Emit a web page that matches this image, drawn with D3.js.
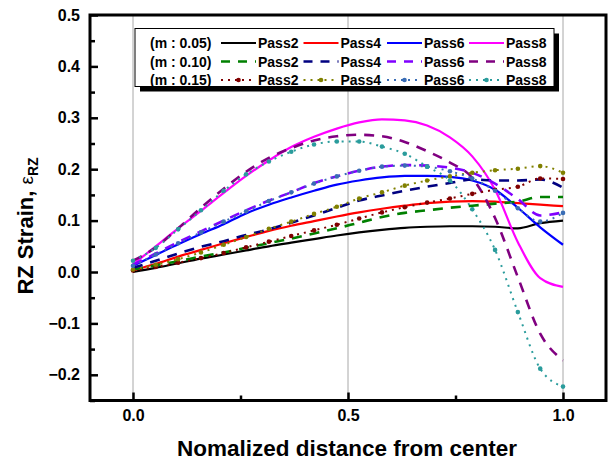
<!DOCTYPE html>
<html>
<head>
  <meta charset="utf-8">
  <style>
    body { margin: 0; background: #fff; }
    svg { display: block; font-family: "Liberation Sans", Arial, sans-serif; font-weight: bold; }
  </style>
</head>
<body>
  <div id="chart"></div>
  <script src="https://d3js.org/d3.v7.min.js"></script>
  <script>
    // normalized radial positions of the nodes
    var xPos = [0, 0.053, 0.105, 0.158, 0.211, 0.263, 0.316, 0.368, 0.421, 0.474,
                0.526, 0.579, 0.632, 0.684, 0.737, 0.789, 0.842, 0.895, 0.947, 1.0];

    var frictions = ["(m : 0.05)", "(m : 0.10)", "(m : 0.15)"];
    var passes = ["Pass2", "Pass4", "Pass6", "Pass8"];

    // m = 0.05
    var m05_pass2 = [0.0, 0.008, 0.017, 0.026, 0.034, 0.042, 0.05, 0.057, 0.064, 0.071,
                     0.077, 0.082, 0.086, 0.088, 0.089, 0.089, 0.088, 0.085, 0.095, 0.1];
    var m05_pass4 = [0.003, 0.016, 0.03, 0.043, 0.056, 0.068, 0.08, 0.09, 0.099, 0.108,
                     0.116, 0.123, 0.129, 0.134, 0.137, 0.138, 0.137, 0.134, 0.131, 0.128];
    var m05_pass6 = [0.012, 0.033, 0.054, 0.074, 0.093, 0.114, 0.131, 0.145, 0.158, 0.17,
                     0.178, 0.184, 0.187, 0.187, 0.185, 0.178, 0.16, 0.125, 0.087, 0.053];
    var m05_pass8 = [0.015, 0.05, 0.085, 0.119, 0.154, 0.187, 0.217, 0.243, 0.263, 0.279,
                     0.291, 0.297, 0.295, 0.285, 0.262, 0.225, 0.16, 0.058, -0.012, -0.029];
    // m = 0.10
    var m10_pass2 = [0.005, 0.013, 0.021, 0.03, 0.038, 0.047, 0.056, 0.065, 0.075, 0.085,
                     0.096, 0.107, 0.115, 0.12, 0.125, 0.129, 0.133, 0.137, 0.146, 0.146];
    var m10_pass4 = [0.008, 0.022, 0.036, 0.049, 0.06, 0.072, 0.083, 0.096, 0.11, 0.125,
                     0.139, 0.149, 0.158, 0.166, 0.173, 0.18, 0.178, 0.178, 0.18, 0.164];
    var m10_pass6 = [0.014, 0.036, 0.058, 0.079, 0.1, 0.12, 0.139, 0.155, 0.173, 0.186,
                     0.197, 0.205, 0.208, 0.207, 0.203, 0.193, 0.172, 0.142, 0.11, 0.116];
    var m10_pass8 = [0.022, 0.048, 0.085, 0.125, 0.162, 0.195, 0.222, 0.241, 0.256, 0.264,
                     0.267, 0.264, 0.253, 0.235, 0.213, 0.183, 0.105, -0.01, -0.12, -0.172];
    // m = 0.15
    var m15_pass2 = [0.003, 0.01, 0.018, 0.027, 0.037, 0.048, 0.059, 0.07, 0.081, 0.092,
                     0.104, 0.116, 0.126, 0.135, 0.143, 0.152, 0.16, 0.166, 0.182, 0.181];
    var m15_pass4 = [0.005, 0.014, 0.025, 0.038, 0.053, 0.068, 0.084, 0.098, 0.113, 0.127,
                     0.143, 0.155, 0.168, 0.178, 0.186, 0.193, 0.198, 0.201, 0.206, 0.193];
    var m15_pass6 = [0.012, 0.034, 0.056, 0.077, 0.098, 0.118, 0.138, 0.155, 0.172, 0.186,
                     0.197, 0.205, 0.207, 0.205, 0.196, 0.182, 0.158, 0.124, 0.098, 0.115];
    var m15_pass8 = [0.022, 0.047, 0.083, 0.12, 0.158, 0.19, 0.215, 0.234, 0.248, 0.254,
                     0.254, 0.244, 0.23, 0.205, 0.178, 0.122, 0.043, -0.078, -0.188, -0.223];

    var xTicks = [0.0, 0.5, 1.0];
    var xMinor = [0.25, 0.75];
    var yTicks = [-0.2, -0.1, 0.0, 0.1, 0.2, 0.3, 0.4, 0.5];
    var yMinor = [-0.25, -0.15, -0.05, 0.05, 0.15, 0.25, 0.35, 0.45];

    var colors = [
      ["#000000", "#ff0000", "#0000ff", "#ff00ff"],
      ["#008000", "#000080", "#8000ff", "#800080"],
      ["#800000", "#808000", "#3a6db5", "#2a9c9c"]
    ];
    var dashes = [null, "10,8", "2,5"];
    var widths = [2.2, 2.6, 2];

    var seriesValues = [
      [m05_pass2, m05_pass4, m05_pass6, m05_pass8],
      [m10_pass2, m10_pass4, m10_pass6, m10_pass8],
      [m15_pass2, m15_pass4, m15_pass6, m15_pass8]
    ];

    var W = 610, H = 463;
    var svg = d3.select("#chart").append("svg")
        .attr("width", W)
        .attr("height", H);

    var x = d3.scaleLinear().domain([-0.1, 1.1]).range([90, 606]);
    var y = d3.scaleLinear().domain([-0.25, 0.5]).range([400.5, 15]);

    // grid lines at the major x ticks
    svg.append("g").selectAll("line")
        .data(xTicks)
        .enter().append("line")
        .attr("x1", d => x(d)).attr("x2", d => x(d))
        .attr("y1", y(0.5)).attr("y2", y(-0.25))
        .attr("stroke", "#a8a8a8")
        .attr("stroke-width", 1);

    // axes (ticks pointing inward)
    var yAxis = d3.axisLeft(y).tickValues(yTicks).tickSize(-8).tickPadding(10)
        .tickFormat(d3.format(".1f"));
    var gy = svg.append("g").attr("transform", "translate(" + x(-0.1) + ",0)").call(yAxis);
    gy.select(".domain").remove();
    gy.selectAll("line").attr("stroke-width", 2.5);
    gy.selectAll("text").attr("font-size", 16).attr("fill", "#000")
        .attr("font-family", "Liberation Sans, Arial, sans-serif");

    var gym = svg.append("g").attr("transform", "translate(" + x(-0.1) + ",0)")
        .call(d3.axisLeft(y).tickValues(yMinor).tickSize(-5).tickFormat(""));
    gym.select(".domain").remove();
    gym.selectAll("line").attr("stroke-width", 2.5);

    var xAxis = d3.axisBottom(x).tickValues(xTicks).tickSize(-8).tickPadding(9)
        .tickFormat(d3.format(".1f"));
    var gx = svg.append("g").attr("transform", "translate(0," + y(-0.25) + ")").call(xAxis);
    gx.select(".domain").remove();
    gx.selectAll("line").attr("stroke-width", 2.5);
    gx.selectAll("text").attr("font-size", 16).attr("fill", "#000")
        .attr("font-family", "Liberation Sans, Arial, sans-serif");

    var gxm = svg.append("g").attr("transform", "translate(0," + y(-0.25) + ")")
        .call(d3.axisBottom(x).tickValues(xMinor).tickSize(-5).tickFormat(""));
    gxm.select(".domain").remove();
    gxm.selectAll("line").attr("stroke-width", 2.5);

    // the data lines
    var line = d3.line()
        .x((d, i) => x(xPos[i]))
        .y(d => y(d))
        .curve(d3.curveMonotoneX);

    var plot = svg.append("g");
    seriesValues.forEach(function (row, r) {
      row.forEach(function (vals, p) {
        plot.append("path")
            .datum(vals)
            .attr("d", line)
            .attr("fill", "none")
            .attr("stroke", colors[r][p])
            .attr("stroke-width", widths[r])
            .attr("stroke-dasharray", dashes[r]);
        if (r == 2) {
          plot.append("g").selectAll("circle")
              .data(vals)
              .enter().append("circle")
              .attr("cx", (d, i) => x(xPos[i]))
              .attr("cy", d => y(d))
              .attr("r", 2.3)
              .attr("fill", colors[r][p]);
        }
      });
    });

    // frame
    svg.append("rect")
        .attr("x", x(-0.1)).attr("y", y(0.5))
        .attr("width", x(1.1) - x(-0.1))
        .attr("height", y(-0.25) - y(0.5))
        .attr("fill", "none")
        .attr("stroke", "#000")
        .attr("stroke-width", 3);

    // legend
    var lg = {x: 135, y: 28.5, w: 419, h: 58};
    svg.append("rect")
        .attr("x", lg.x + 5).attr("y", lg.y + 5)
        .attr("width", lg.w).attr("height", lg.h)
        .attr("fill", "#000");
    svg.append("rect")
        .attr("x", lg.x).attr("y", lg.y)
        .attr("width", lg.w).attr("height", lg.h)
        .attr("fill", "#fff")
        .attr("stroke", "#000")
        .attr("stroke-width", 1);

    var rowY = [43, 61.5, 80];
    var colX = [221, 303.5, 387, 469];
    frictions.forEach(function (lab, r) {
      svg.append("text")
          .attr("x", 150).attr("y", rowY[r] + 5)
          .attr("font-size", 14)
          .text(lab);
      passes.forEach(function (ps, p) {
        svg.append("line")
            .attr("x1", colX[p]).attr("x2", colX[p] + 35)
            .attr("y1", rowY[r]).attr("y2", rowY[r])
            .attr("stroke", colors[r][p])
            .attr("stroke-width", widths[r])
            .attr("stroke-dasharray", r == 1 ? "9,8" : dashes[r]);
        if (r == 2) {
          svg.append("circle")
              .attr("cx", colX[p] + 17.5).attr("cy", rowY[r])
              .attr("r", 2.3)
              .attr("fill", colors[r][p]);
        }
        svg.append("text")
            .attr("x", colX[p] + 37).attr("y", rowY[r] + 5)
            .attr("font-size", 14)
            .text(ps);
      });
    });

    // axis titles
    svg.append("text")
        .attr("x", 347).attr("y", 456)
        .attr("text-anchor", "middle")
        .attr("font-size", 22.5)
        .text("Nomalized distance from center");

    var yt = svg.append("text")
        .attr("transform", "translate(33,226) rotate(-90)")
        .attr("text-anchor", "middle")
        .attr("font-size", 22)
        .attr("fill", "#000");
    yt.append("tspan").text("RZ Strain, ");
    yt.append("tspan").attr("font-weight", "normal").attr("font-size", 19).text("\u03b5");
    yt.append("tspan").attr("font-size", 14).attr("dy", 5).text("RZ");
  </script>
</body>
</html>
